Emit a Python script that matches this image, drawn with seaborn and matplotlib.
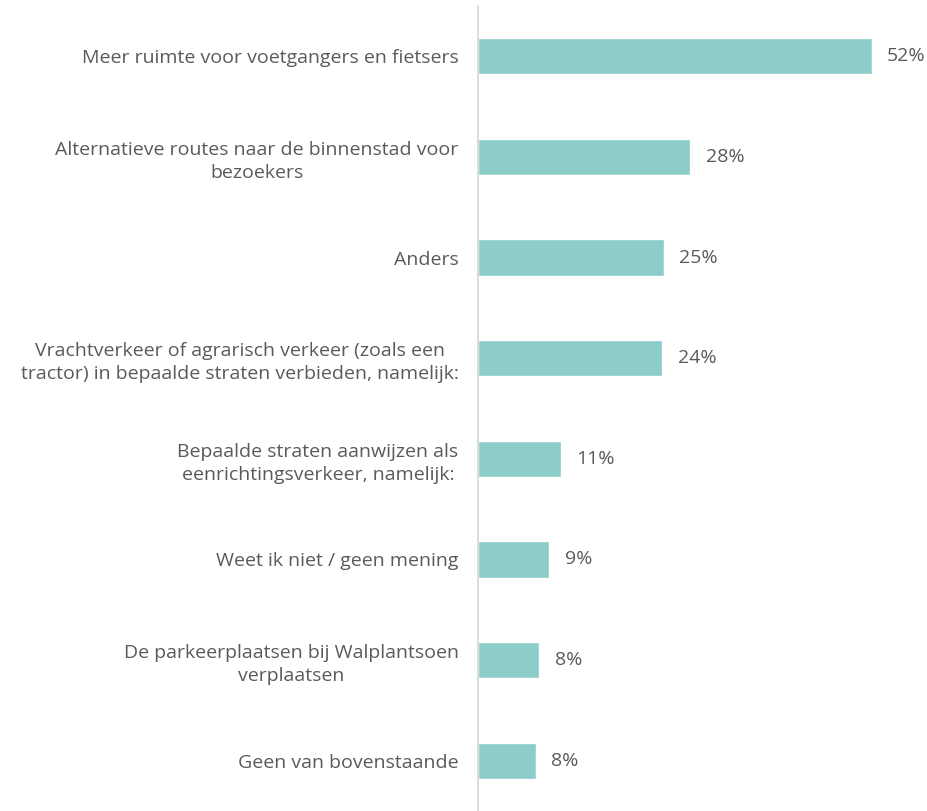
import pandas as pd
import matplotlib.pyplot as plt
import seaborn as sns

# Data
categories = [
    "Meer ruimte voor voetgangers en fietsers",
    "Alternatieve routes naar de binnenstad voor\nbezoekers",
    "Anders",
    "Vrachtverkeer of agrarisch verkeer (zoals een\ntractor) in bepaalde straten verbieden, namelijk:",
    "Bepaalde straten aanwijzen als\neenrichtingsverkeer, namelijk:",
    "Weet ik niet / geen mening",
    "De parkeerplaatsen bij Walplantsoen\nverplaatsen",
    "Geen van bovenstaande",
]
values = [51.9, 28.0, 24.5, 24.3, 10.9, 9.4, 8.1, 7.6]
value_labels = ["52%", "28%", "25%", "24%", "11%", "9%", "8%", "8%"]

df = pd.DataFrame({"categorie": categories, "percentage": values})

sns.set_style("white")
plt.rcParams['font.family'] = ['Open Sans', 'DejaVu Sans']
text_color = "#5a5a5a"

fig = plt.figure(figsize=(9.27, 8.11), dpi=100)
ax = fig.add_axes([478 / 927, 0.0, 1 - 478 / 927, 1 - 6 / 811])

sns.barplot(data=df, x="percentage", y="categorie", color="#8ccdca",
            width=0.36, saturation=1, ax=ax)

ax.bar_label(ax.containers[0], labels=value_labels, padding=11,
             fontsize=14, color=text_color)

ax.set_xlim(0, 59.2)
ax.set_ylim(7.5, -0.5)
ax.set_xlabel("")
ax.set_ylabel("")
ax.set_xticks([])
ax.tick_params(axis="y", length=0, pad=14, labelsize=14, labelcolor=text_color)
for lbl in ax.get_yticklabels():
    lbl.set_horizontalalignment("right")
    lbl.set_multialignment("center")
    lbl.set_linespacing(1.35)

for side in ["top", "right", "bottom"]:
    ax.spines[side].set_visible(False)
ax.spines["left"].set_color("#d9d9d9")
ax.spines["left"].set_linewidth(1.3)

fig.savefig("out.png", dpi=100)
